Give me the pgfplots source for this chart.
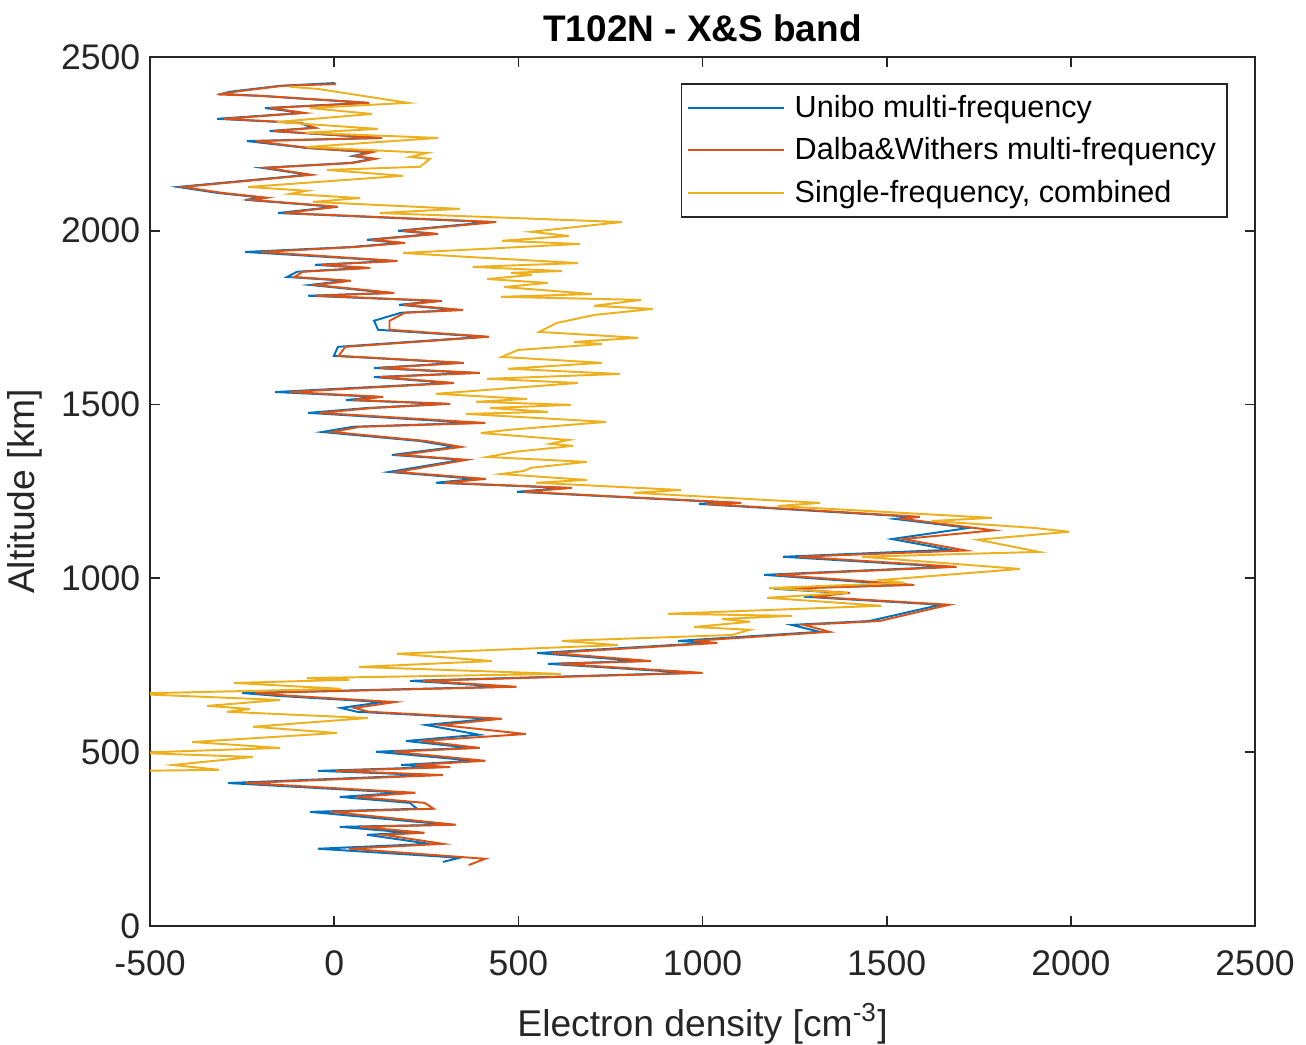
\documentclass[border=0pt]{standalone}
\usepackage{fontspec}
\setmainfont{Liberation Sans}
\usepackage{pgfplots}
\pgfplotsset{compat=1.18}

\definecolor{mblue}{rgb}{0,0.447,0.741}
\definecolor{mred}{rgb}{0.85,0.325,0.098}
\definecolor{myellow}{rgb}{0.929,0.694,0.125}
\definecolor{axgray}{rgb}{0.15,0.15,0.15}

\begin{document}
\begin{tikzpicture}
\begin{axis}[
    name=ax,
    scale only axis,
    width=397.5pt, height=312.6pt,
    xmin=-500, xmax=2500, ymin=0, ymax=2500,
    xtick={-500,0,500,1000,1500,2000,2500},
    ytick={0,500,1000,1500,2000,2500},
    tick align=inside,
    major tick length=3.6pt,
    axis line style={axgray, line width=0.6pt},
    every tick/.style={axgray, line width=0.6pt},
    tick label style={font=\fontsize{12.8}{15}\selectfont, text=axgray},
    xticklabel style={yshift=-5.5pt},
    /pgf/number format/assume math mode=true,
    /pgf/number format/1000 sep={},
    title={\bfseries T102N - X\&S band},
    title style={font=\fontsize{13.3}{16}\selectfont, yshift=-4pt},
    xlabel={Electron density [cm\textsuperscript{-3}]},
    ylabel={Altitude [km]},
    label style={font=\fontsize{13.4}{16}\selectfont, text=axgray},
    xlabel style={yshift=-3pt},
    legend style={at={(0.9756,0.970)}, anchor=north east,
        draw=axgray, line width=0.6pt,
        font=\fontsize{11}{13}\selectfont,
        inner xsep=2pt, inner ysep=1pt,
        nodes={text height=8.9pt, text depth=2.1pt, inner ysep=2.15pt, inner xsep=2pt},
        /tikz/every odd column/.append style={column sep=1.5pt}},
    legend cell align=left,
    legend image code/.code={\draw[#1, line width=0.7pt] (2.5pt,0pt) -- (37pt,0pt);},
    every axis plot/.append style={line width=0.7pt},
]
% Unibo multi-frequency
\addplot[mblue] coordinates {
(2,2425) (-147,2417) (-283,2400) (-305,2394) (-202,2388) (89,2368) (-188,2353)
(-85,2339) (-318,2322) (-93,2310) (-58,2296) (-175,2287) (124,2267) (-237,2258)
(-74,2238) (97,2226) (51,2215) (105,2207) (43,2195) (-196,2181) (-71,2161)
(-424,2126) (-318,2109) (-194,2095) (-242,2089) (2,2069) (-153,2051) (423,2025)
(173,2000) (271,1991) (89,1974) (181,1965) (43,1953) (-242,1939) (162,1913)
(-52,1902) (86,1893) (-101,1882) (-128,1867) (32,1856) (-66,1844) (151,1821)
(-71,1813) (282,1798) (176,1787) (333,1772) (181,1764) (108,1741) (119,1715)
(409,1695) (10,1666) (-1,1640) (339,1620) (108,1605) (379,1591) (108,1579)
(314,1562) (-161,1536) (119,1522) (32,1513) (303,1502) (89,1490) (-71,1476)
(379,1447) (51,1436) (-33,1421) (233,1395) (328,1378) (157,1355) (347,1341)
(149,1306) (385,1286) (276,1275) (629,1260) (496,1249) (1090,1217) (990,1214)
(1571,1177) (1522,1171) (1723,1145) (1514,1113) (1672,1082) (1218,1062) (1666,1033)
(1167,1010) (1547,981) (1194,970) (1381,958) (1275,947) (1647,924) (1452,877)
(1242,866) (1318,846) (934,820) (1015,814) (551,785) (830,762) (580,754)
(971,728) (206,705) (466,688) (-250,670) (-158,662) (132,644) (18,627)
(62,616) (425,596) (249,578) (393,550) (195,532) (371,512) (113,501)
(382,475) (181,463) (287,457) (-44,446) (260,434) (-289,411) (186,383)
(15,371) (205,354) (225,337) (-66,328) (309,291) (15,285) (205,268)
(89,262) (260,236) (-44,222) (341,196) (295,184)
};
\addlegendentry{Unibo multi-frequency}
% Dalba & Withers multi-frequency
\addplot[mred] coordinates {
(5,2422) (-140,2417) (-270,2400) (-315,2392) (-195,2388) (95,2368) (-175,2353)
(-80,2339) (-300,2322) (-88,2310) (-50,2296) (-165,2287) (130,2267) (-215,2258)
(-68,2238) (103,2226) (58,2215) (112,2207) (50,2195) (-185,2181) (-62,2161)
(-410,2126) (-305,2109) (-183,2095) (-228,2089) (10,2069) (-135,2051) (440,2025)
(185,2000) (282,1991) (100,1974) (192,1965) (55,1953) (-200,1939) (172,1913)
(-35,1902) (98,1893) (-85,1882) (-108,1867) (45,1856) (-50,1844) (163,1821)
(-50,1813) (292,1798) (188,1787) (350,1772) (192,1764) (150,1741) (150,1715)
(420,1695) (30,1666) (12,1640) (352,1620) (125,1605) (395,1591) (125,1579)
(325,1562) (-120,1536) (132,1522) (50,1513) (315,1502) (105,1490) (-40,1476)
(410,1447) (70,1436) (-5,1421) (250,1395) (345,1378) (180,1355) (360,1341)
(170,1306) (412,1286) (300,1275) (645,1260) (515,1249) (1105,1217) (1010,1214)
(1590,1177) (1545,1171) (1790,1138) (1545,1113) (1715,1080) (1260,1062) (1690,1033)
(1200,1010) (1575,981) (1225,970) (1400,958) (1300,947) (1670,924) (1480,877)
(1275,866) (1345,846) (975,820) (1040,814) (590,785) (860,762) (610,754)
(1000,728) (240,705) (495,688) (-215,670) (-120,662) (165,644) (55,627)
(95,616) (455,596) (290,578) (520,552) (235,532) (395,512) (160,501)
(410,475) (220,463) (315,457) (5,446) (295,434) (-240,411) (220,383)
(60,371) (245,354) (270,337) (-10,328) (330,291) (70,285) (245,268)
(135,262) (295,236) (40,222) (410,193) (365,175)
};
\addlegendentry{Dalba\&Withers multi-frequency}
% Single-frequency, combined
\addplot[myellow] coordinates {
(-120,2414) (-44,2408) (200,2368) (-66,2353) (102,2336) (-156,2313) (119,2293)
(-79,2282) (282,2267) (-74,2241) (252,2224) (206,2212) (260,2207) (233,2184)
(-20,2175) (187,2158) (-234,2126) (-74,2115) (-120,2106) (70,2094) (-58,2083)
(341,2063) (124,2051) (781,2025) (534,1997) (637,1985) (455,1971) (667,1962)
(187,1936) (358,1925) (662,1907) (376,1896) (618,1884) (480,1879) (537,1873)
(415,1861) (580,1850) (461,1838) (700,1818) (453,1810) (833,1801) (705,1784)
(865,1775) (708,1758) (605,1735) (556,1709) (825,1692) (651,1680) (727,1674)
(499,1657) (455,1637) (727,1620) (472,1603) (776,1588) (415,1574) (662,1562)
(276,1531) (523,1516) (385,1508) (643,1499) (423,1490) (580,1479) (358,1473)
(738,1450) (472,1427) (398,1418) (637,1398) (586,1387) (648,1381) (491,1364)
(415,1349) (686,1335) (534,1318) (515,1309) (453,1300) (686,1283) (548,1275)
(941,1254) (814,1246) (1319,1217) (1205,1208) (1786,1174) (1623,1165) (1900,1145)
(1995,1134) (1748,1111) (1914,1076) (1433,1062) (1862,1027) (1485,995) (1547,987)
(1180,972) (1394,958) (1175,944) (1485,921) (906,898) (1243,892) (1053,883)
(1129,875) (977,860) (1129,852) (1080,837) (618,820) (770,808) (170,783)
(428,762) (67,745) (615,725) (-74,713) (40,708) (-272,699) (18,682)
(-560,668) (-147,650) (-345,633) (-229,624) (-291,616) (91,598) (-221,573)
(7,555) (-158,544) (-386,529) (-147,512) (-540,498) (-221,486) (-438,463)
(-313,449) (-540,446)
};
\addlegendentry{Single-frequency, combined}
\end{axis}
\pgfresetboundingbox
\useasboundingbox ([xshift=-54pt,yshift=-42.8pt]ax.south west)
    rectangle ([xshift=18.35pt,yshift=20.5pt]ax.north east);
\end{tikzpicture}
\end{document}
